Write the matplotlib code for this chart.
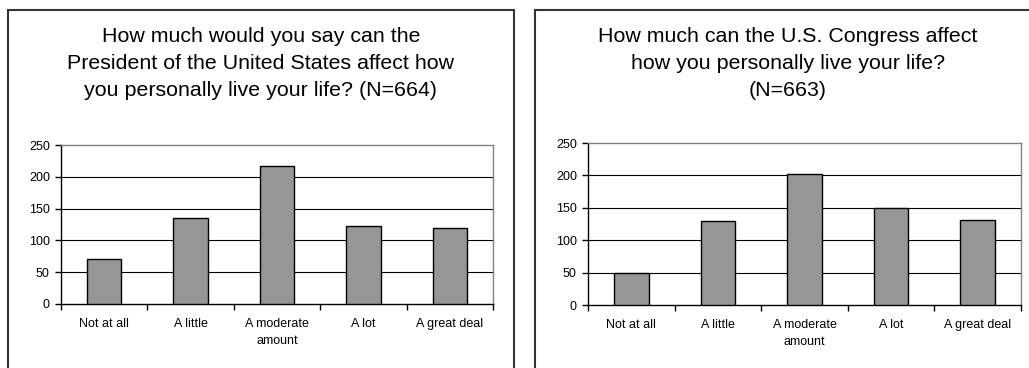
import numpy as np
import matplotlib
matplotlib.use("Agg")
import matplotlib.pyplot as plt
from matplotlib.patches import Rectangle

plt.rcParams['font.family'] = ['Liberation Sans', 'DejaVu Sans']

categories = ["Not at all", "A little", "A moderate\namount", "A lot", "A great deal"]
president_counts = [70, 135, 217, 122, 120]
congress_counts = [50, 129, 202, 150, 131]
president_title = "How much would you say can the\nPresident of the United States affect how\nyou personally live your life? (N=664)"
congress_title = "How much can the U.S. Congress affect\nhow you personally live your life?\n(N=663)"
yticks = [0, 50, 100, 150, 200, 250]

W, H = 1029, 368
fig = plt.figure(figsize=(W / 100, H / 100), dpi=100)
fig.patch.set_facecolor("white")


def px_box(x0, y0, x1, y1):
    # pixel box (top-left origin) -> figure fraction [left, bottom, width, height]
    return [x0 / W, (H - y1) / H, (x1 - x0) / W, (y1 - y0) / H]


def panel(x0, x1, title, axbox, counts):
    # chart-area frame, open past the edges of the figure
    fig.patches.append(Rectangle((x0 / W, -0.1), (x1 - x0) / W, (H + 37 - 10.5) / H,
                                 transform=fig.transFigure, fill=False,
                                 edgecolor="#333333", linewidth=1.5))
    fig.text((x0 + x1) / 2 / W, (H - 63.5) / H, title, ha="center", va="center",
             fontsize=15.4, linespacing=1.5)

    ax = fig.add_axes(px_box(*axbox))
    pos = np.arange(len(counts)) + 0.5
    ax.bar(pos, counts, width=0.4, color="#969696", edgecolor="black", linewidth=1.0, zorder=3)
    ax.set_xlim(0, len(counts))
    ax.set_ylim(0, 250)
    ax.set_yticks(yticks)
    ax.set_xticks(np.arange(len(counts) + 1))
    ax.set_xticklabels([])
    ax.set_xticks(pos, minor=True)
    ax.set_xticklabels(categories, minor=True, fontsize=9, linespacing=1.6, va="top")
    ax.tick_params(axis="x", which="minor", length=0, pad=10)
    ax.tick_params(axis="x", which="major", length=4, width=1, direction="out")
    ax.tick_params(axis="y", length=4, width=1, labelsize=9, pad=4)
    for v in yticks[1:-1]:
        ax.axhline(v, color="black", linewidth=0.8, zorder=1)
    ax.spines["top"].set_color("#808080")
    ax.spines["right"].set_color("#808080")
    ax.spines["left"].set_color("black")
    ax.spines["bottom"].set_color("black")
    for s in ax.spines.values():
        s.set_linewidth(1.0)
    return ax


panel(7.5, 514, president_title, (61, 145, 493, 304), president_counts)
panel(535, 1041, congress_title, (588, 143, 1021, 305), congress_counts)

fig.savefig("out.png", dpi=100, facecolor="white")
